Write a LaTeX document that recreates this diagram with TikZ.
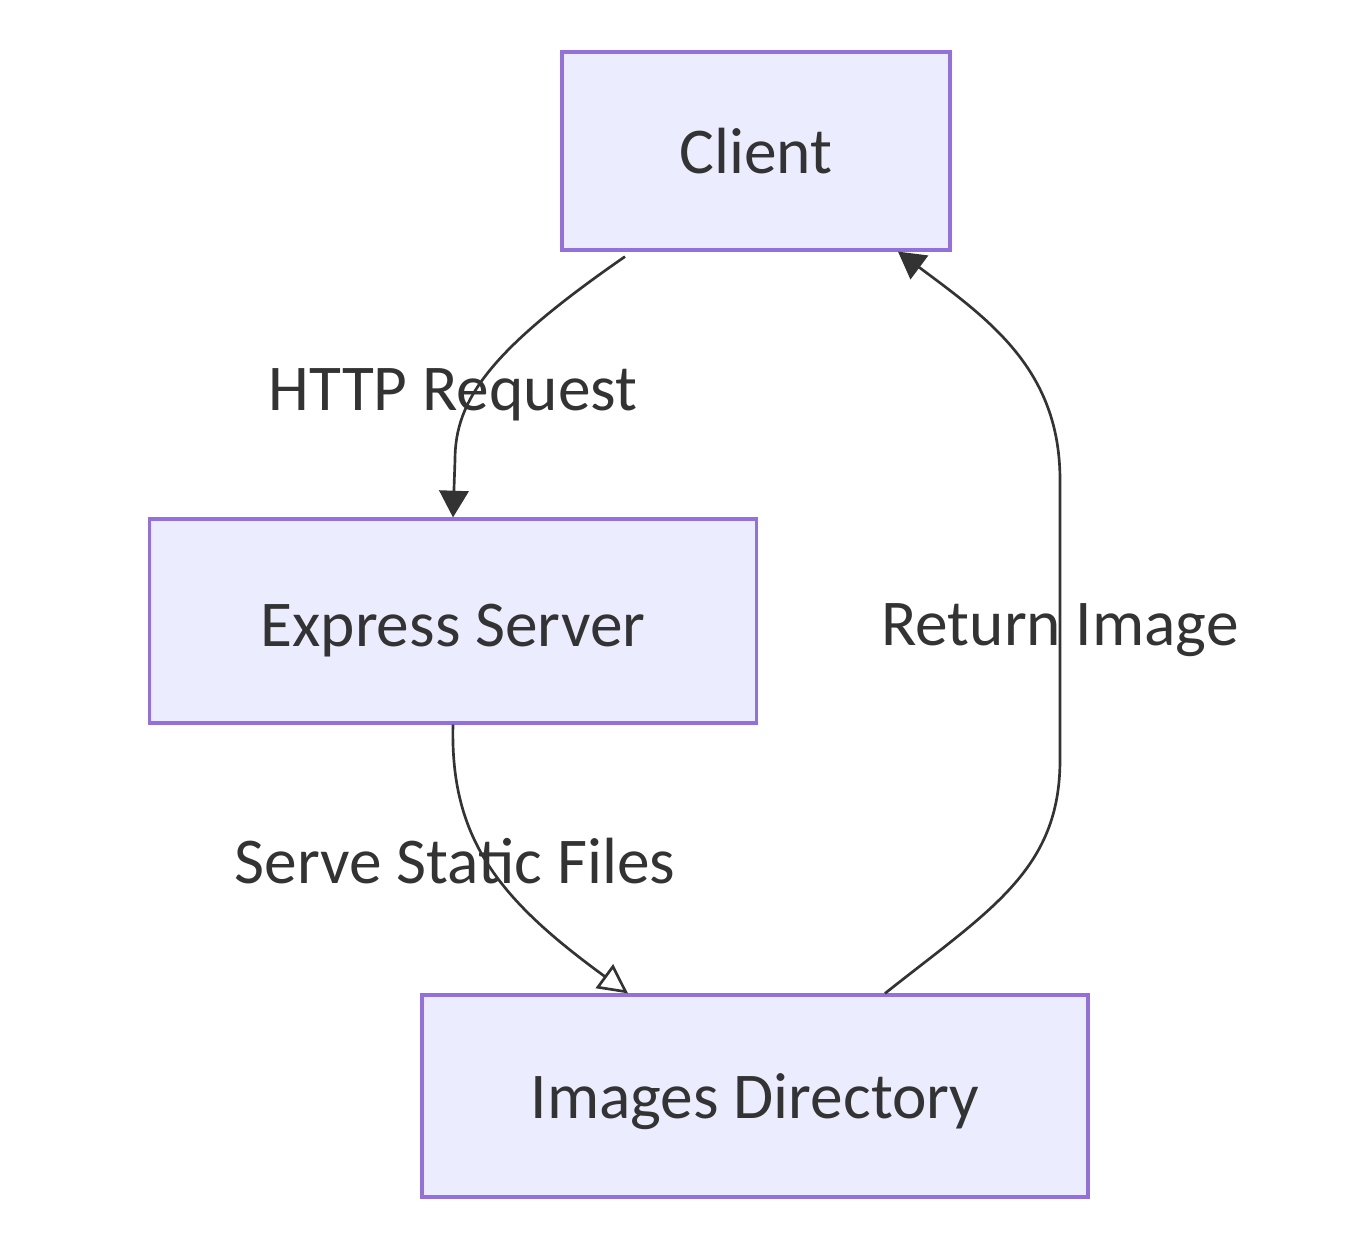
\documentclass[tikz,border=0pt]{standalone}
\usepackage{fontspec}
\setmainfont{Carlito}
\usetikzlibrary{arrows.meta,calc}
\definecolor{boxfill}{HTML}{ECECFF}
\definecolor{boxline}{HTML}{9370DB}
\definecolor{ink}{HTML}{333333}
\newcommand{\lowerby}[2]{\raisebox{-#1}[\height][\depth]{#2}}
\begin{document}
\begin{tikzpicture}[x=0.75pt,y=-0.75pt,
  box/.style={draw=boxline,line width=2.4pt,fill=boxfill,inner sep=0pt,
    font=\fontsize{49}{58}\selectfont,text=ink},
  lbl/.style={font=\fontsize{49}{58}\selectfont,text=ink,inner sep=0pt},
  edge/.style={draw=ink,line width=2pt},
  solidtip/.style={-{Triangle[length=20pt,width=22pt]}},
  opentip/.style={-{Triangle[open,length=22pt,width=22pt,line width=2pt]}}]
\useasboundingbox (0,0) rectangle (1368,1251);
\node[box,minimum width=291pt,minimum height=148.5pt] (client) at (756,151) {Client};
\node[box,minimum width=455pt,minimum height=153pt] (express) at (453,621) {\lowerby{7.5pt}{Express Server}};
\node[box,minimum width=499.5pt,minimum height=151.5pt] (images) at (755,1096) {\lowerby{4.5pt}{Images Directory}};
\draw[edge,solidtip] ($(client.south)+(-131,5)$) .. controls (490,350) and (455,400) .. (455,460) -- (express.north);
\draw[edge,opentip] (express.south) .. controls (450,840) and (500,900) .. ($(images.north)+(-127,0)$);
\draw[edge,solidtip] ($(images.north)+(130,0)$) .. controls (990,910) and (1060,870) .. (1060,760) -- (1060,480) .. controls (1060,370) and (990,320) .. ($(client.south)+(142,0)$);
\node[lbl] (l1) at (453,395) {HTTP Request};
\node[lbl] (l2) at (455,861) {Serve Static Files};
\node[lbl] (l3) at (1060,630) {Return Image};
\end{tikzpicture}
\end{document}
